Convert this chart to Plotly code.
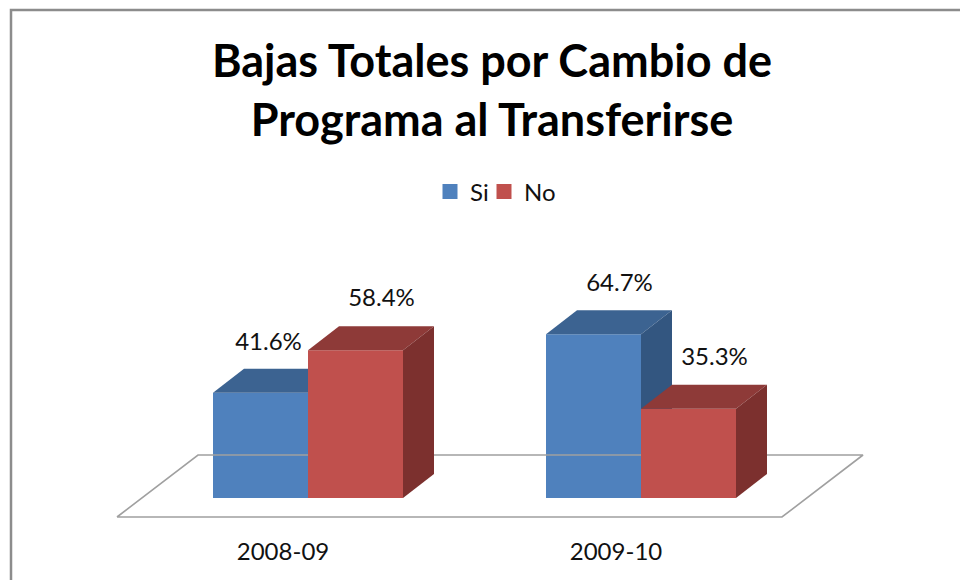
import plotly.graph_objects as go

categories = ["2008-09", "2009-10"]
series_names = ["Si", "No"]
series_si = [41.6, 64.7]
series_no = [58.4, 35.3]
label_si = ["41.6%", "64.7%"]
label_no = ["58.4%", "35.3%"]

PX_X = 333.0      # pixels per category
PX_Y = 2.53       # pixels per percentage point
BAR_W = 95 / PX_X
DX = 31 / PX_X    # oblique depth
DY = 24 / PX_Y
BLUE, BLUE_TOP, BLUE_SIDE = "#4F81BD", "#3C6391", "#335680"
RED, RED_TOP, RED_SIDE = "#C0504D", "#8E3A38", "#7C302E"
x0_px, y0_px, bottom_px = 308, 498, 530
xr = [-x0_px / PX_X, (960 - x0_px) / PX_X]
yr = [-(bottom_px - y0_px) / PX_Y, y0_px / PX_Y]


def box_faces(values, left_off, top_col, side_col, xa, ya):
    out = []
    for i, v in enumerate(values):
        l, r = i + left_off, i + left_off + BAR_W
        out.append(go.Scatter(x=[l, l + DX, r + DX, r, l], y=[v, v + DY, v + DY, v, v],
                              fill="toself", fillcolor=top_col, mode="none", showlegend=False,
                              hoverinfo="skip", xaxis=xa, yaxis=ya))
        out.append(go.Scatter(x=[r, r + DX, r + DX, r, r], y=[0, DY, v + DY, v, 0],
                              fill="toself", fillcolor=side_col, mode="none", showlegend=False,
                              hoverinfo="skip", xaxis=xa, yaxis=ya))
    return out


fig = go.Figure()
# floor of the 3-D chart
fl, fr = (117 - x0_px) / PX_X, (782 - x0_px) / PX_X
fy0, fy1 = -19 / PX_Y, 43 / PX_Y
fd = 81 / PX_X
fig.add_trace(go.Scatter(x=[fl, fr, fr + fd, fl + fd, fl], y=[fy0, fy0, fy1, fy1, fy0], mode="lines",
                         line=dict(color="#A0A0A0", width=1.6), showlegend=False, hoverinfo="skip"))
for t in box_faces(series_si, -BAR_W, BLUE_TOP, BLUE_SIDE, "x", "y"):
    fig.add_trace(t)
fig.add_trace(go.Bar(x=[0, 1], y=series_si, offset=-BAR_W, width=BAR_W, marker_color=BLUE,
                     marker_line_width=0, showlegend=False, name=series_names[0]))
for t in box_faces(series_no, 0, RED_TOP, RED_SIDE, "x2", "y2"):
    fig.add_trace(t)
fig.add_trace(go.Bar(x=[0, 1], y=series_no, offset=0, width=BAR_W, marker_color=RED,
                     marker_line_width=0, xaxis="x2", yaxis="y2", showlegend=False, name=series_names[1]))
# legend keys (thicker outline gives the larger square swatch), one legend per entry for exact spacing
fig.add_trace(go.Bar(x=[None], y=[None], name=series_names[0], marker_color=BLUE,
                     marker_line=dict(color=BLUE, width=3), legend="legend"))
fig.add_trace(go.Bar(x=[None], y=[None], name=series_names[1], marker_color=RED,
                     marker_line=dict(color=RED, width=3), legend="legend2"))
# data labels
lab_font = dict(family="Lato", size=24, color="#111111")
fig.add_trace(go.Scatter(x=[-BAR_W / 2 + 8 / PX_X, 1 - BAR_W / 2 + 26 / PX_X],
                         y=[v + 49 / PX_Y for v in series_si], text=label_si, mode="text",
                         textfont=lab_font, showlegend=False, hoverinfo="skip", xaxis="x2", yaxis="y2"))
fig.add_trace(go.Scatter(x=[BAR_W / 2 + 26 / PX_X, 1 + BAR_W / 2 + 26 / PX_X],
                         y=[v + 50 / PX_Y for v in series_no], text=label_no, mode="text",
                         textfont=lab_font, showlegend=False, hoverinfo="skip", xaxis="x2", yaxis="y2"))

ax = dict(range=xr, showgrid=False, zeroline=False, showline=False)
ay = dict(range=yr, showgrid=False, zeroline=False, showline=False, showticklabels=False, ticks="")
tick_shift = -25 / PX_X
leg = dict(orientation="h", xanchor="left", y=1 - 192 / 530, yanchor="middle", font=dict(size=24),
           bgcolor="rgba(0,0,0,0)", itemclick=False, itemdoubleclick=False)
fig.update_layout(
    width=960, height=580, margin=dict(l=0, r=0, t=0, b=580 - bottom_px, pad=0),
    paper_bgcolor="white", plot_bgcolor="rgba(0,0,0,0)", barmode="overlay",
    font=dict(family="Lato", color="#111111"),
    title=dict(text="Bajas Totales por Cambio de<br>Programa al Transferirse", x=492 / 960, xanchor="center",
               y=1 - 77 / 580, yanchor="top", font=dict(family="Lato", size=45, weight="bold", color="#000000")),
    legend=dict(**leg, x=430 / 960),
    legend2=dict(**leg, x=484 / 960),
    xaxis=dict(**ax, tickmode="array", tickvals=[tick_shift, 1 + tick_shift], ticktext=categories, ticks="",
               tickfont=dict(family="Lato", size=24, color="#111111"), ticklabelstandoff=5),
    yaxis=ay,
    xaxis2=dict(**ax, overlaying="x", showticklabels=False, ticks=""),
    yaxis2=dict(**ay, overlaying="y"),
    shapes=[dict(type="path", xref="paper", yref="paper",
                 path=f"M {11/960} {-50/530} L {11/960} {1-10/530} L 1 {1-10/530}",
                 line=dict(color="#8C8C8C", width=2.5))],
)
fig.write_html("out.html", config={"displayModeBar": False},
               post_script="document.body.style.margin='0';document.body.style.overflow='hidden';")
